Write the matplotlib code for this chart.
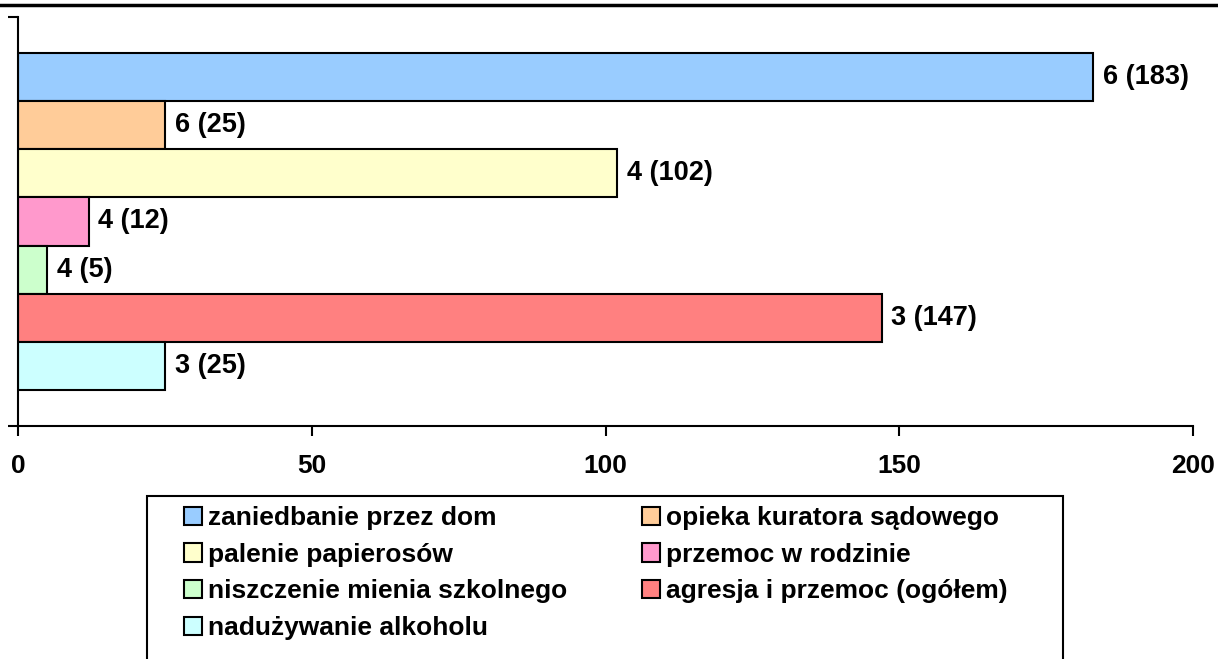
"""Horizontal bar chart of problem categories with counts."""

import matplotlib
matplotlib.use("Agg")
import matplotlib.pyplot as plt
from matplotlib.lines import Line2D
from matplotlib.patches import Rectangle

# Data.
categories = ["zaniedbanie przez dom", "opieka kuratora sądowego", "palenie papierosów",
              "przemoc w rodzinie", "niszczenie mienia szkolnego", "agresja i przemoc (ogółem)",
              "nadużywanie alkoholu"]
values = [183, 25, 102, 12, 5, 147, 25]
labels = ["6 (183)", "6 (25)", "4 (102)", "4 (12)", "4 (5)", "3 (147)", "3 (25)"]
colors = ["#99CCFF", "#FFCC99", "#FFFFCC", "#FF99CC", "#CCFFCC", "#FF8080", "#CCFFFF"]
xticks = [0, 50, 100, 150, 200]

plt.rcParams["font.family"] = ["Liberation Sans", "DejaVu Sans"]
plt.rcParams["font.weight"] = "bold"

W, H = 1218, 659
fig = plt.figure(figsize=(W / 100, H / 100), dpi=100)
ax = fig.add_axes([18 / W, 1 - 426 / H, (1193 - 18) / W, (426 - 17) / H])

# One bar per series, stacked top to bottom.
handles = []
for i, (val, lab, col) in enumerate(zip(values, labels, colors)):
    bar = ax.barh(i, val, height=1.0, color=col, edgecolor="black", linewidth=1.5,
                  label=categories[i])
    handles.append(bar)
    ax.annotate(lab, (val, i), xytext=(7, 0), textcoords="offset points",
                va="center", ha="left", fontsize=19.5, fontweight="bold")

margin = 0.748
ax.set_ylim(len(values) - 0.5 + margin, -0.5 - margin)
ax.set_xlim(0, 200)

# Axes styling.
for side in ["top", "right"]:
    ax.spines[side].set_visible(False)
for side in ["left", "bottom"]:
    ax.spines[side].set_linewidth(1.5)
ax.set_xticks(xticks)
ax.set_xticklabels([str(t) for t in xticks], fontsize=19, fontweight="bold")
ax.tick_params(axis="x", direction="out", length=7, width=1.5, pad=13)
ax.set_yticks(list(ax.get_ylim()))
ax.set_yticklabels([])
ax.tick_params(axis="y", direction="out", length=7, width=1.5)

# Legend: two columns filled row by row, drawn as two frameless legends.
legendKw = dict(loc="upper left", frameon=False, handlelength=0.7, handleheight=0.7,
                handletextpad=0.2, labelspacing=0.48, borderpad=0, borderaxespad=0,
                prop={"weight": "bold", "size": 19})
colLeft = [0, 2, 4, 6]
colRight = [1, 3, 5]
legTop = 1 - 506 / H
legA = fig.legend([handles[k] for k in colLeft], [categories[k] for k in colLeft],
                  bbox_to_anchor=(184 / W, legTop), **legendKw)
legB = fig.legend([handles[k] for k in colRight], [categories[k] for k in colRight],
                  bbox_to_anchor=(642 / W, legTop), **legendKw)
for leg in (legA, legB):
    for h in leg.legend_handles:
        h.set_linewidth(1.5)

# Legend frame, running off the bottom of the figure.
fig.add_artist(Rectangle((147 / W, -20 / H), (1063 - 147) / W, (H - 496 + 20) / H,
                         transform=fig.transFigure, fill=False, edgecolor="black", linewidth=1.5))

# Line across the top of the figure.
fig.add_artist(Line2D([0, 1], [1 - 5 / H, 1 - 5 / H], color="black", linewidth=2.5,
                      transform=fig.transFigure))

fig.savefig("out.png", dpi=100)
